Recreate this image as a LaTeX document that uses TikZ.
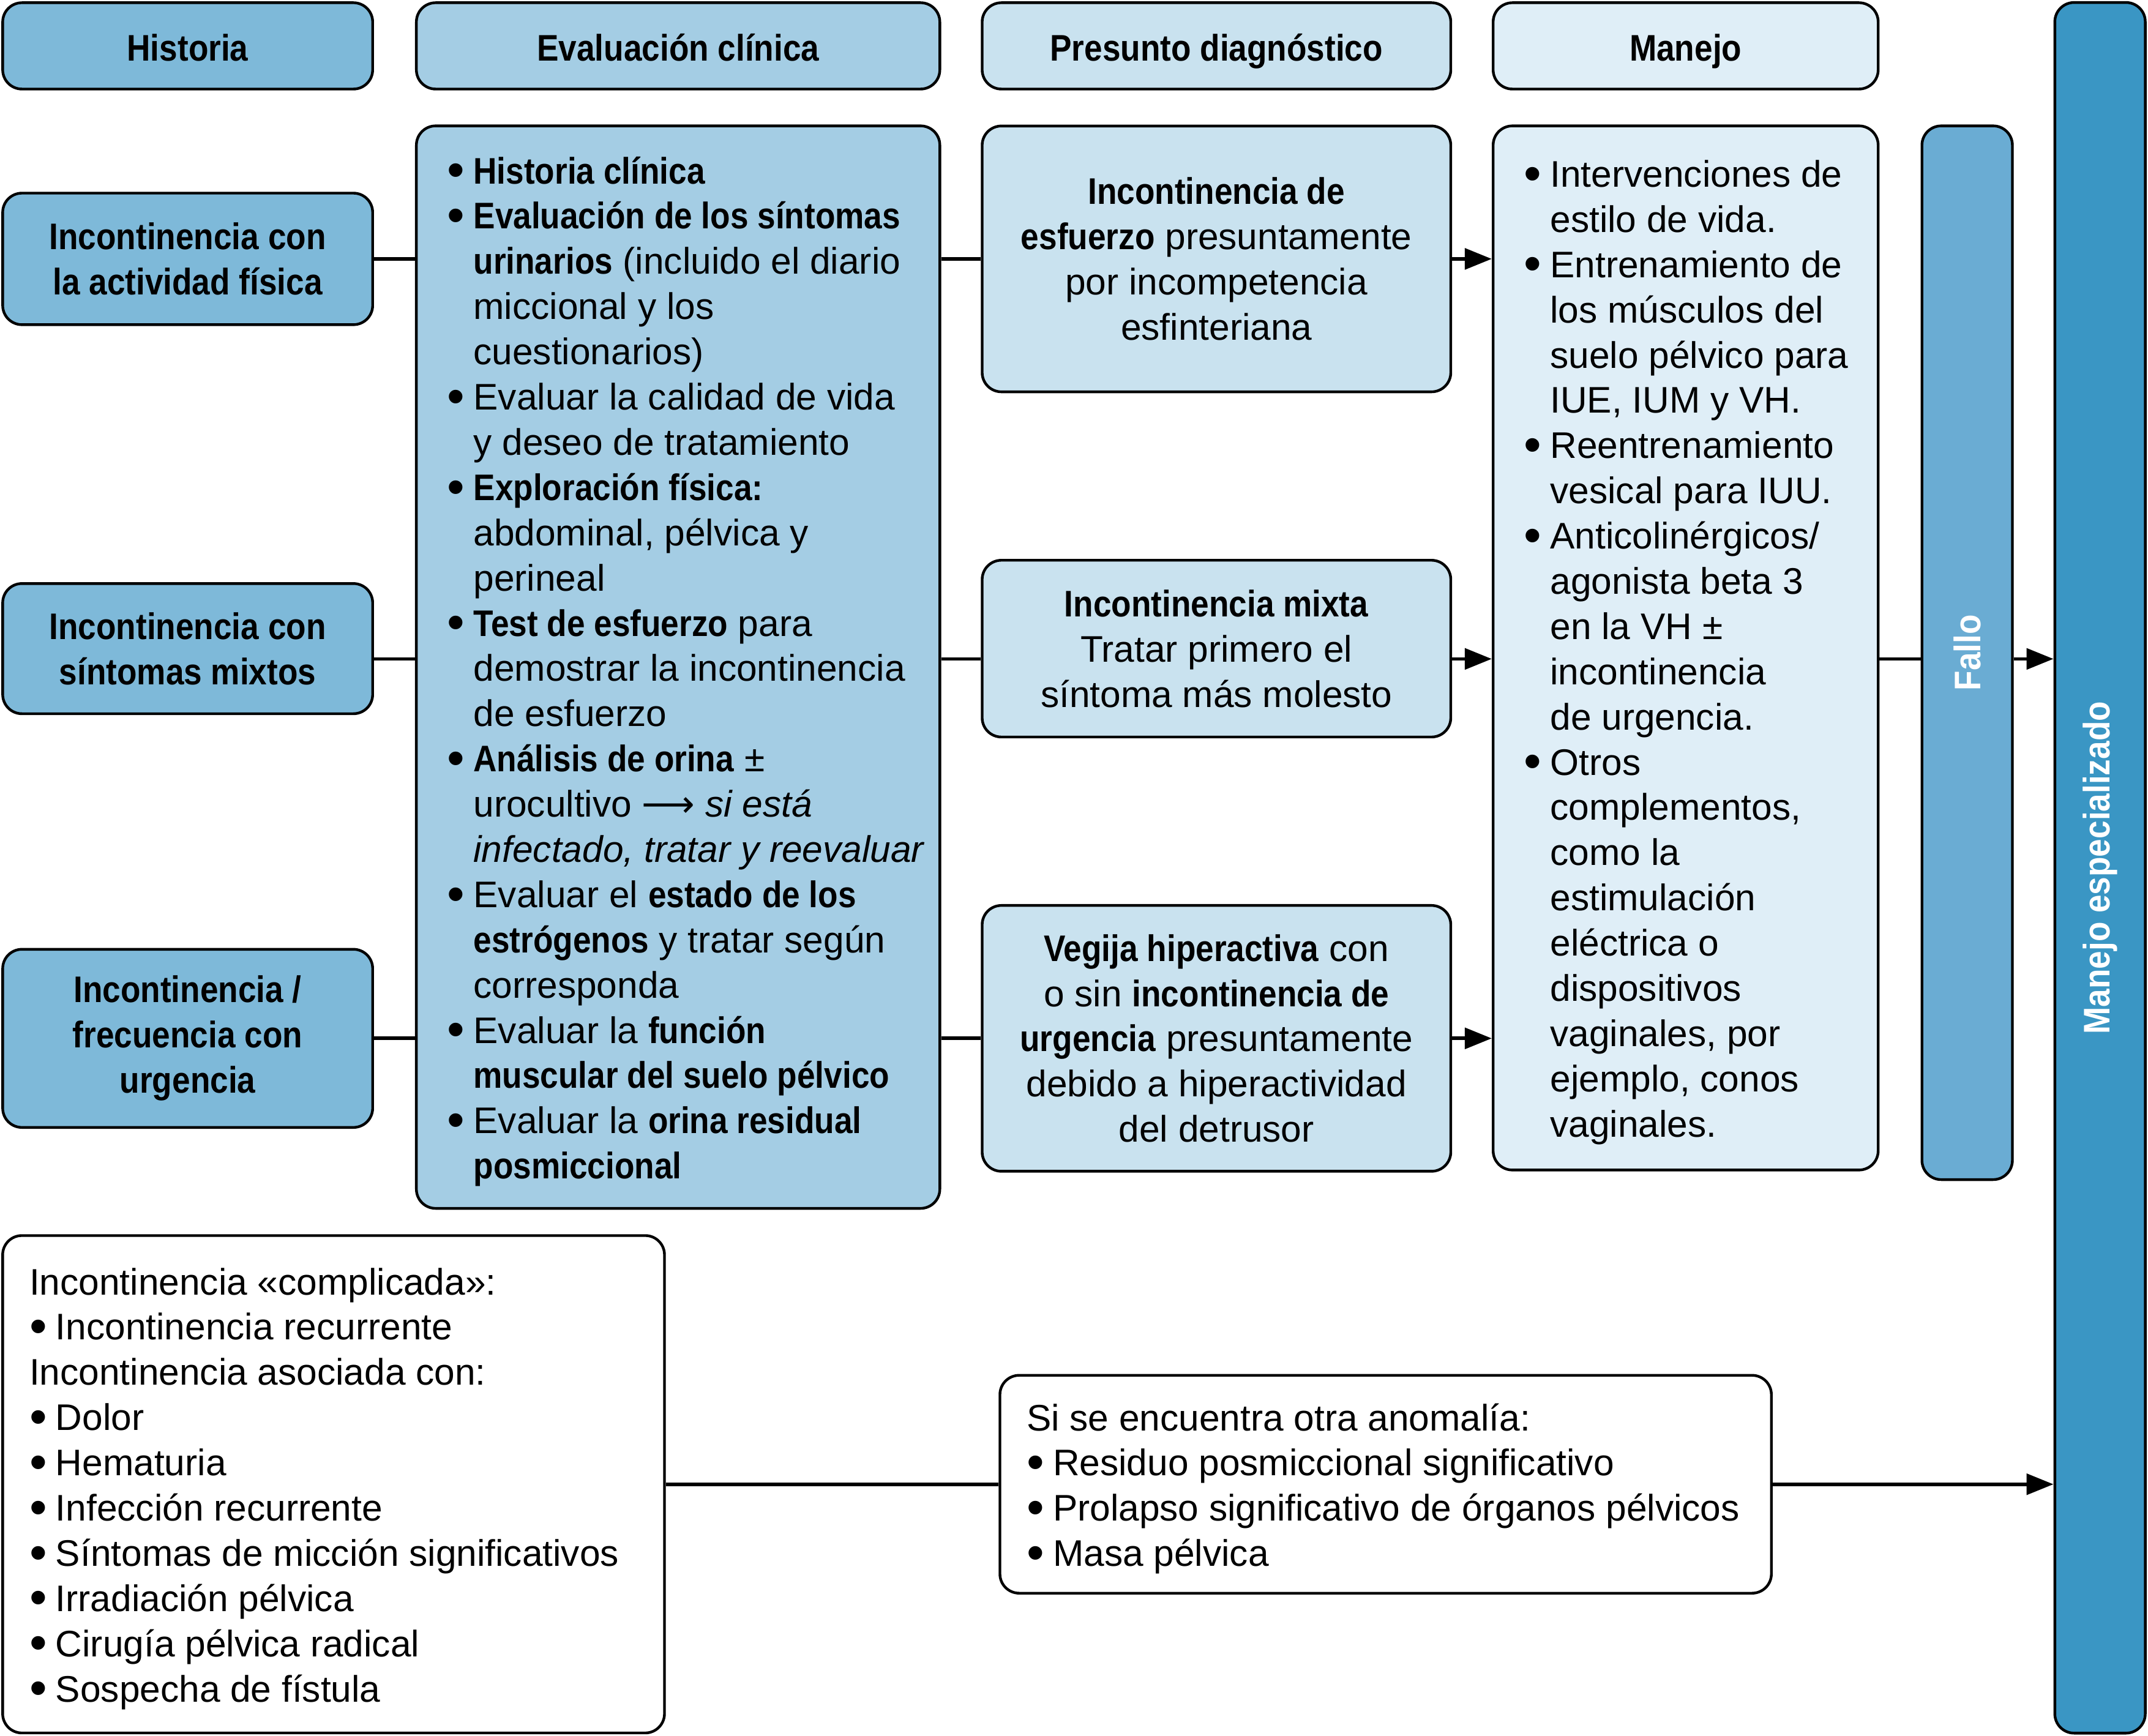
\documentclass[tikz,border=0pt]{standalone}
\usepackage{fontspec}
\setmainfont{Liberation Sans}[BoldFeatures={FakeStretch=0.88}]
\newfontfamily\symfont{DejaVu Sans}
\usetikzlibrary{arrows.meta}
\definecolor{histblue}{RGB}{126,185,217}
\definecolor{evalblue}{RGB}{164,205,228}
\definecolor{presblue}{RGB}{201,226,239}
\definecolor{manblue}{RGB}{223,238,247}
\definecolor{falloblue}{RGB}{106,172,211}
\definecolor{especblue}{RGB}{58,150,196}
\newcommand\lbul{\makebox[6.8pt][l]{\raisebox{-0.9pt}{\fontsize{13pt}{13pt}\selectfont •}}}
\newcommand\lind{\hspace*{6.8pt}}
\newcommand\hdtext[1]{\raisebox{-3.9pt}[0pt][0pt]{#1}}
\begin{document}
\begin{tikzpicture}[x=0.0125cm, y=-0.0125cm,
	txt/.style={font=\fontsize{9.6pt}{11.74pt}\selectfont},
	box/.style={txt, draw, line width=0.7pt, rounded corners=5pt, inner sep=0pt, align=center},
	bbox/.style={box, font=\fontsize{9.6pt}{11.74pt}\selectfont\bfseries},
	headbox/.style={draw, line width=0.7pt, rounded corners=5pt, inner sep=0pt,
		font=\fontsize{9.6pt}{11.74pt}\selectfont\bfseries, minimum height=0.7875cm},
	listtxt/.style={txt, align=left, inner sep=0pt, anchor=west, yshift=-0.04cm},
	bartxt/.style={font=\fontsize{9.6pt}{11.74pt}\selectfont\bfseries, text=white, rotate=90},
	link/.style={line width=0.9pt},
	arr/.style={link, -{Triangle[length=7pt,width=5.4pt]}}]
	\useasboundingbox (0,0) rectangle (1568,1267);
	% column heads
	\node [headbox, fill=histblue, minimum width=3.375cm] (hdhist) at (137,33.5) {\hdtext{Historia}};
	\node [headbox, fill=evalblue, minimum width=4.775cm] (hdeval) at (495,33.5) {\hdtext{Evaluación clínica}};
	\node [headbox, fill=presblue, minimum width=4.275cm] (hdpres) at (888,33.5) {\hdtext{Presunto diagnóstico}};
	\node [headbox, fill=manblue, minimum width=3.5125cm] (hdman) at (1230.5,33.5) {\hdtext{Manejo}};
	% historia
	\node [bbox, fill=histblue, minimum width=3.375cm, minimum height=1.2cm] (hist1) at (137,189) {Incontinencia con\\la actividad física};
	\node [bbox, fill=histblue, minimum width=3.375cm, minimum height=1.1875cm] (hist2) at (137,473.5) {Incontinencia con\\síntomas mixtos};
	\node [bbox, fill=histblue, minimum width=3.375cm, minimum height=1.625cm] (hist3) at (137,758) {Incontinencia /\\frecuencia con\\urgencia};
	% evaluacion
	\node [box, fill=evalblue, minimum width=4.775cm, minimum height=9.875cm] (eval) at (495,487) {};
	\node [listtxt] (evaltxt) at ([xshift=0.2875cm]eval.west) {\lbul\textbf{Historia clínica}\\
		\lbul\textbf{Evaluación de los síntomas}\\
		\lind\textbf{urinarios} (incluido el diario\\
		\lind miccional y los\\
		\lind cuestionarios)\\
		\lbul Evaluar la calidad de vida\\
		\lind y deseo de tratamiento\\
		\lbul\textbf{Exploración física:}\\
		\lind abdominal, pélvica y\\
		\lind perineal\\
		\lbul\textbf{Test de esfuerzo} para\\
		\lind demostrar la incontinencia\\
		\lind de esfuerzo\\
		\lbul\textbf{Análisis de orina} ±\\
		\lind urocultivo {\symfont ⟶} \textit{si está}\\
		\lind\textit{infectado, tratar y reevaluar}\\
		\lbul Evaluar el \textbf{estado de los}\\
		\lind\textbf{estrógenos} y tratar según\\
		\lind corresponda\\
		\lbul Evaluar la \textbf{función}\\
		\lind\textbf{muscular del suelo pélvico}\\
		\lbul Evaluar la \textbf{orina residual}\\
		\lind\textbf{posmiccional}};
	% presunto diagnostico
	\node [box, fill=presblue, minimum width=4.275cm, minimum height=2.425cm] (pres1) at (888,189) {\textbf{Incontinencia de}\\\textbf{esfuerzo} presuntamente\\por incompetencia\\esfinteriana};
	\node [box, fill=presblue, minimum width=4.275cm, minimum height=1.6125cm] (pres2) at (888,473.5) {\textbf{Incontinencia mixta}\\Tratar primero el\\síntoma más molesto};
	\node [box, fill=presblue, minimum width=4.275cm, minimum height=2.425cm] (pres3) at (888,758) {\textbf{Vegija hiperactiva} con\\o sin \textbf{incontinencia de}\\\textbf{urgencia} presuntamente\\debido a hiperactividad\\del detrusor};
	% manejo
	\node [box, fill=manblue, minimum width=3.5125cm, minimum height=9.525cm] (manejo) at (1230.5,473) {};
	\node [listtxt] (manejotxt) at ([xshift=0.2875cm]manejo.west) {\lbul Intervenciones de\\
		\lind estilo de vida.\\
		\lbul Entrenamiento de\\
		\lind los músculos del\\
		\lind suelo pélvico para\\
		\lind IUE, IUM y VH.\\
		\lbul Reentrenamiento\\
		\lind vesical para IUU.\\
		\lbul Anticolinérgicos/\\
		\lind agonista beta 3\\
		\lind en la VH ±\\
		\lind incontinencia\\
		\lind de urgencia.\\
		\lbul Otros\\
		\lind complementos,\\
		\lind como la\\
		\lind estimulación\\
		\lind eléctrica o\\
		\lind dispositivos\\
		\lind vaginales, por\\
		\lind ejemplo, conos\\
		\lind vaginales.};
	% bars
	\node [box, fill=falloblue, minimum width=0.825cm, minimum height=9.6125cm] (fallo) at (1436,476.5) {};
	\node [bartxt] (fallotxt) at (fallo.center) {Fallo};
	\node [box, fill=especblue, minimum width=0.825cm, minimum height=15.7875cm] (espec) at (1533,633.5) {};
	\node [bartxt] (espectxt) at (espec.center) {Manejo especializado};
	% bottom row
	\node [box, fill=white, minimum width=6.0375cm, minimum height=4.5375cm] (complic) at (243.5,1083.5) {};
	\node [listtxt] (complictxt) at ([xshift=0.25cm]complic.west) {Incontinencia «complicada»:\\
		\lbul Incontinencia recurrente\\
		Incontinencia asociada con:\\
		\lbul Dolor\\
		\lbul Hematuria\\
		\lbul Infección recurrente\\
		\lbul Síntomas de micción significativos\\
		\lbul Irradiación pélvica\\
		\lbul Cirugía pélvica radical\\
		\lbul Sospecha de fístula};
	\node [box, fill=white, minimum width=7.0375cm, minimum height=1.9875cm] (anomal) at (1011.5,1083.5) {};
	\node [listtxt] (anomaltxt) at ([xshift=0.25cm]anomal.west) {Si se encuentra otra anomalía:\\
		\lbul Residuo posmiccional significativo\\
		\lbul Prolapso significativo de órganos pélvicos\\
		\lbul Masa pélvica};
	% connectors
	\coordinate (r1) at (0,189);
	\coordinate (r2) at (0,481);
	\coordinate (r3) at (0,758);
	\foreach \i in {1,2,3} {
		\draw [link] (hist\i.east |- r\i) -- (eval.west |- r\i);
		\draw [link] (eval.east |- r\i) -- (pres\i.west |- r\i);
		\draw [arr] (pres\i.east |- r\i) -- (manejo.west |- r\i);
	}
	\draw [link] (manejo.east |- r2) -- (fallo.west |- r2);
	\draw [arr] (fallo.east |- r2) -- (espec.west |- r2);
	\draw [link] (complic.east) -- (anomal.west);
	\draw [arr] (anomal.east) -- (anomal.east -| espec.west);
\end{tikzpicture}
\end{document}
